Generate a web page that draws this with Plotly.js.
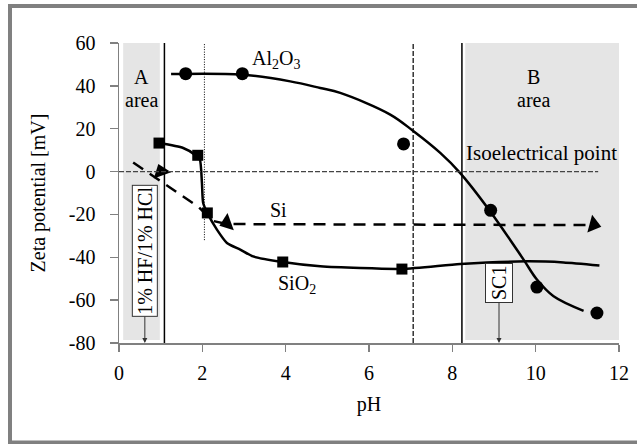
<!DOCTYPE html>
<html>
<head>
<meta charset="utf-8">
<script src="https://cdn.plot.ly/plotly-3.0.1.min.js"></script>
<style>
html,body{margin:0;padding:0;background:#fff;}
#chart{width:637px;height:444px;}
</style>
</head>
<body>
<div id="chart"></div>
<script>
// ---- data ----
const xTicks = [0, 2, 4, 6, 8, 10, 12];
const yTicks = [-80, -60, -40, -20, 0, 20, 40, 60];

// Al2O3 measured points and fitted curve
const al2o3X = [1.60, 2.96, 6.83, 8.92, 10.03, 11.47];
const al2o3Y = [45.7, 45.7, 12.9, -18.1, -53.9, -66.0];
const al2o3FitX = [1.25, 2.95, 4.11, 4.83, 5.31, 6.51, 7.07, 7.71, 8.19, 8.91, 9.71, 10.03, 10.43, 11.15];
const al2o3FitY = [45.5, 45.2, 42.1, 39.0, 36.7, 26.6, 18.8, 8.7, -0.7, -18.6, -41.1, -50.4, -58.2, -65.0];

// SiO2 measured points and fitted curve
const sio2X = [0.96, 1.89, 2.12, 3.93, 6.79];
const sio2Y = [13.3, 7.6, -19.3, -42.2, -45.5];
const sio2FitX = [0.96, 1.54, 1.82, 1.94, 1.99, 2.02, 2.12, 2.35, 2.59, 2.91, 3.22, 3.93, 4.83, 6.79, 8.19, 9.79, 10.67, 11.53];
const sio2FitY = [13.3, 11.0, 7.9, 5.6, -5.3, -14.7, -19.3, -27.1, -33.3, -36.4, -39.6, -42.2, -44.2, -45.4, -43.1, -41.9, -42.4, -43.8];

// Si dashed path and arrow heads
const siX = [0.34, 1.90, 2.25, 2.60, 11.40];
const siY = [4.2, -16.4, -23.0, -24.5, -25.0];
const siArrowX = [1.01, 2.59, 11.39];
const siArrowY = [0.0, -24.0, -24.8];

// regions and reference lines (data units)
const areaA = [0.10, 0.98];
const areaB = [8.31, 12.05];
const areaY = [-78.6, 60];
const solidLinesX = [1.09, 8.23];
const dottedLineX = 2.05, dottedLineY = [-32, 60];
const dashedLineX = 7.06;
const isoLineX = [0, 11.5];

const FONT = 'Liberation Serif';

const traces = [
  {x: al2o3FitX, y: al2o3FitY, mode: 'lines', line: {color: '#000', width: 2.5, shape: 'spline', smoothing: 1}, hoverinfo: 'skip'},
  {x: al2o3X, y: al2o3Y, mode: 'markers', marker: {symbol: 'circle', size: 13, color: '#000'}, cliponaxis: false},
  {x: sio2FitX, y: sio2FitY, mode: 'lines', line: {color: '#000', width: 2.5, shape: 'spline', smoothing: 0.6}, hoverinfo: 'skip'},
  {x: sio2X, y: sio2Y, mode: 'markers', marker: {symbol: 'square', size: 11, color: '#000'}, cliponaxis: false},
  {x: siX, y: siY, mode: 'lines', line: {color: '#000', width: 2.5, dash: '12px,8px'}},
  {x: siArrowX, y: siArrowY, mode: 'markers', cliponaxis: false,
   marker: {symbol: ['triangle-up', 'triangle-left', 'triangle-right'], angle: [-20, -20, 15], size: 16, color: '#000'}}
];

const shapes = [];
// shaded areas
[areaA, areaB].forEach(a => shapes.push({type: 'rect', xref: 'x', yref: 'y', x0: a[0], x1: a[1], y0: areaY[0], y1: areaY[1], fillcolor: '#e5e5e5', line: {width: 0}, layer: 'below'}));
// vertical solid lines
solidLinesX.forEach(v => shapes.push({type: 'line', xref: 'x', yref: 'y', x0: v, x1: v, y0: -80, y1: 60, line: {color: '#000', width: 1.5}}));
shapes.push({type: 'line', xref: 'x', yref: 'y', x0: dottedLineX, x1: dottedLineX, y0: dottedLineY[0], y1: dottedLineY[1], line: {color: '#000', width: 1, dash: '1px,1.5px'}});
shapes.push({type: 'line', xref: 'x', yref: 'y', x0: dashedLineX, x1: dashedLineX, y0: -80, y1: 60, line: {color: '#000', width: 1.2, dash: '5px,2px'}});
shapes.push({type: 'line', xref: 'x', yref: 'y', x0: isoLineX[0], x1: isoLineX[1], y0: 0, y1: 0, line: {color: '#444', width: 1.2, dash: '5px,2px'}});
// outer frame (paper units)
const frame = {color: '#808080', width: 4};
shapes.push({type: 'line', xref: 'paper', yref: 'paper', x0: -0.218, x1: -0.218, y0: 1.13, y1: -0.34, line: frame});
shapes.push({type: 'line', xref: 'paper', yref: 'paper', x0: -0.222, x1: 1.04, y0: 1.1233, y1: 1.1233, line: frame});
shapes.push({type: 'line', xref: 'paper', yref: 'paper', x0: -0.222, x1: 1.04, y0: -0.332, y1: -0.332, line: frame});

const txt = (text, x, y, extra) => Object.assign({text: text, x: x, y: y, xref: 'x', yref: 'y', showarrow: false, font: {family: FONT, size: 20, color: '#000'}}, extra || {});

const annotations = [
  txt('A', 0.53, 44.3),
  txt('area', 0.53, 33.5),
  txt('B', 9.94, 44.3),
  txt('area', 9.94, 33.5),
  txt('Isoelectrical point', 10.15, 8.8, {font: {family: FONT, size: 21, color: '#000'}}),
  txt('Al<sub>2</sub>O<sub>3</sub>', 3.77, 52.5),
  txt('Si', 3.82, -17.8),
  txt('SiO<sub>2</sub>', 4.27, -52.5),
  txt('1% HF/1% HCl', 0.62, -80, {showarrow: true, ax: 0, ay: -92, textangle: -90, bgcolor: '#fff', bordercolor: '#333', borderwidth: 1, borderpad: 1, arrowhead: 2, arrowsize: 1, arrowwidth: 1, arrowcolor: '#333'}),
  txt('SC1', 9.12, -80, {showarrow: true, ax: 0, ay: -60, textangle: -90, bgcolor: '#fff', bordercolor: '#333', borderwidth: 1, borderpad: 2, arrowhead: 2, arrowsize: 1, arrowwidth: 1, arrowcolor: '#333'})
];

const layout = {
  width: 637, height: 444,
  margin: {l: 119, r: 18, t: 43, b: 101},
  paper_bgcolor: '#fff', plot_bgcolor: 'rgba(0,0,0,0)',
  showlegend: false,
  font: {family: FONT, size: 20, color: '#000'},
  xaxis: {range: [0, 12], tickvals: xTicks, ticktext: xTicks.map(String), showgrid: false, zeroline: false,
          showline: true, linecolor: '#808080', linewidth: 1.5, ticks: 'outside', ticklen: 7, tickcolor: '#808080', tickwidth: 1.5,
          tickfont: {family: FONT, size: 20, color: '#000'}, ticklabelstandoff: 4,
          title: {text: 'pH', font: {family: FONT, size: 20, color: '#000'}, standoff: 14}},
  yaxis: {range: [-80, 60], tickvals: yTicks, ticktext: yTicks.map(String), showgrid: false, zeroline: false,
          showline: true, linecolor: '#808080', linewidth: 1.5, ticks: 'outside', ticklen: 8, tickcolor: '#808080', tickwidth: 1.5,
          tickfont: {family: FONT, size: 20, color: '#000'}, ticklabelstandoff: 10,
          title: {text: 'Zeta potential [mV]', font: {family: FONT, size: 20, color: '#000'}, standoff: 18}},
  shapes: shapes,
  annotations: annotations
};

Plotly.newPlot('chart', traces, layout, {staticPlot: true, displayModeBar: false});
</script>
</body>
</html>
